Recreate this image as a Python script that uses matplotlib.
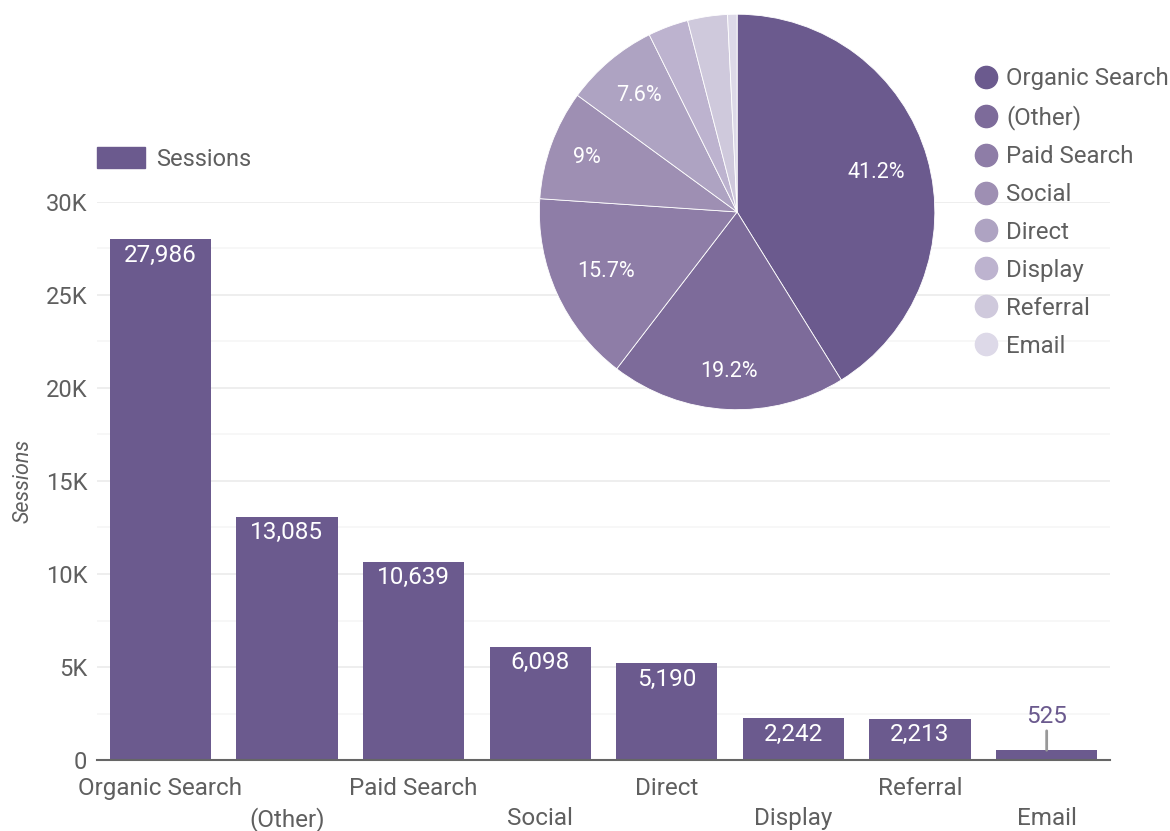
import numpy as np
import matplotlib.pyplot as plt
from matplotlib.lines import Line2D
from matplotlib.patches import Patch
from matplotlib.ticker import MultipleLocator, FuncFormatter

plt.rcParams['font.family'] = ['Roboto', 'DejaVu Sans']

channels = ['Organic Search', '(Other)', 'Paid Search', 'Social', 'Direct',
            'Display', 'Referral', 'Email']
sessions = [27986, 13085, 10639, 6098, 5190, 2242, 2213, 525]
pie_colors = ['#6b5a8e', '#7d6b9a', '#8e7da7', '#9e8fb3', '#aea3c2',
              '#bdb3cf', '#cfc9dc', '#ddd9e8']
label_radius = [0.73, 0.81, 0.73, 0.81, 0.77]
bar_color = '#6b5a8e'
txt = '#5f5f5f'

fig = plt.figure(figsize=(11.7, 8.31), dpi=100)
ax = fig.add_axes([0.0829, 0.0854, 0.8658, 0.6716])

x = range(len(channels))
ax.bar(x, sessions, width=0.8, color=bar_color, zorder=3)
ax.set_xlim(-0.5, len(channels) - 0.5)
ax.set_ylim(0, 30000)
ax.yaxis.set_major_locator(MultipleLocator(5000))
ax.yaxis.set_minor_locator(MultipleLocator(2500))
ax.yaxis.set_major_formatter(FuncFormatter(lambda v, p: '0' if v == 0 else f'{int(v/1000)}K'))
ax.grid(axis='y', which='major', color='#ebebeb', lw=1.2, zorder=0)
ax.grid(axis='y', which='minor', color='#f6f6f6', lw=1.2, zorder=0)
for s in ['top', 'right', 'left']:
    ax.spines[s].set_visible(False)
ax.spines['bottom'].set_color('#666666')
ax.spines['bottom'].set_linewidth(1.5)
ax.spines['bottom'].set_zorder(4)
ax.tick_params(axis='y', length=0, labelsize=17, labelcolor=txt, pad=7)
ax.tick_params(axis='y', which='minor', length=0)
ax.tick_params(axis='x', length=0, labelsize=17.5, labelcolor=txt, pad=12)
ax.set_xticks(list(x))
ax.set_xticklabels(channels)
for i, lab in enumerate(ax.get_xticklabels()):
    lab.set_y(0.0 if i % 2 == 0 else -0.055)
ax.set_ylabel('Sessions', fontsize=15.5, color=txt, style='italic', labelpad=9)

for i, v in enumerate(sessions):
    if v > 1500:
        ax.annotate(f'{v:,}', (i, v), xytext=(0, -3), textcoords='offset points',
                    ha='center', va='top', color='white', fontsize=17.5, zorder=5)
    else:
        ax.annotate(f'{v:,}', (i, v), xytext=(0, 16), textcoords='offset points',
                    ha='center', va='bottom', color=bar_color, fontsize=17.5, zorder=5,
                    arrowprops=dict(arrowstyle='-', color='#999999', lw=2,
                                    shrinkA=0, shrinkB=0))

ax.legend(handles=[Patch(color=bar_color, label='Sessions')], loc='lower left',
          bbox_to_anchor=(0.0, 1.056), frameon=False, fontsize=17,
          handlelength=2.05, handleheight=0.95, handletextpad=0.45,
          labelcolor=txt, borderaxespad=0, borderpad=0)

# pie
pax = fig.add_axes([0.630 - 0.169, 0.745 - 0.2383, 0.338, 0.4765])
total = sum(sessions)
wedges, texts = pax.pie(sessions, colors=pie_colors, startangle=90, counterclock=False,
                        wedgeprops=dict(linewidth=0.6, edgecolor='white'))
for w, v, r in zip(wedges, sessions, label_radius):
    pct = v / total * 100
    ang = np.deg2rad((w.theta1 + w.theta2) / 2)
    s = f'{pct:.1f}'.rstrip('0').rstrip('.') + '%'
    pax.text(r * np.cos(ang), r * np.sin(ang), s, ha='center', va='center',
             color='white', fontsize=15.5)
pax.set_xlim(-1, 1)
pax.set_ylim(-1, 1)
pax.set_aspect('equal')

handles = [Line2D([], [], marker='o', ls='', markersize=16, color=c, label=l)
           for c, l in zip(pie_colors, channels)]
fig.legend(handles=handles, loc='upper left', bbox_to_anchor=(0.827, 0.919),
           frameon=False, fontsize=17.3, labelcolor=txt, handletextpad=0.1,
           handlelength=1.5, labelspacing=0.62, borderaxespad=0, borderpad=0)

fig.savefig('out.png', dpi=100)
